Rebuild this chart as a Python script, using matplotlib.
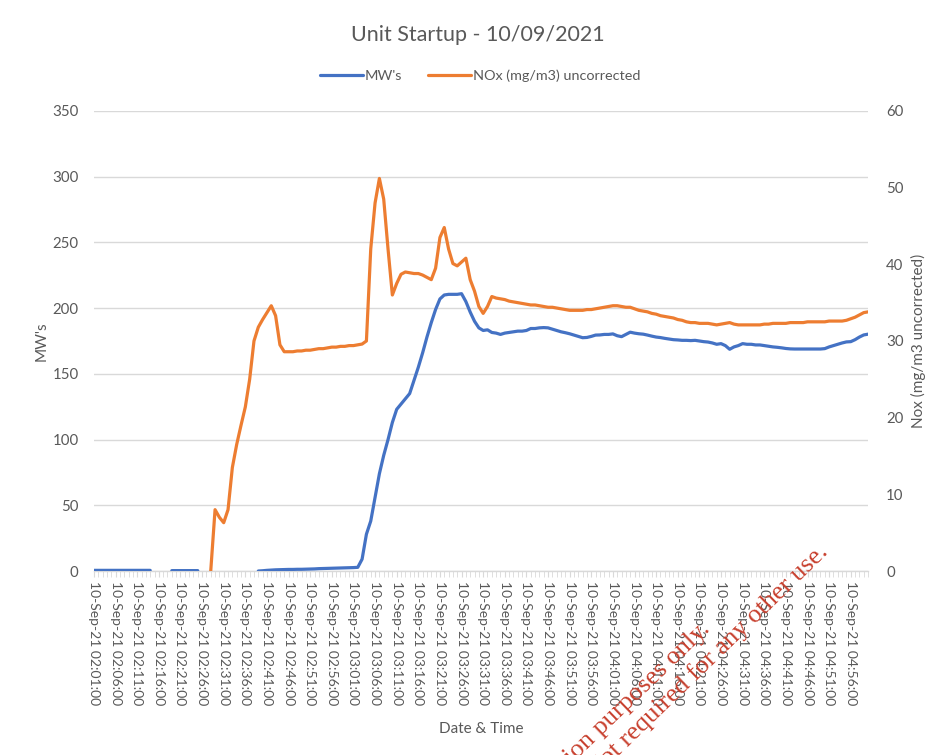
import matplotlib as mpl
mpl.use("Agg")
import matplotlib.pyplot as plt
import numpy as np
import pandas as pd

nan = np.nan

# one reading per minute, 10-Sep-21 02:01 .. 05:00
mw = [0.5] * 14 + [nan] * 4 + [0.3] * 7 + [nan] * 13 + [
    0.0, 0.2, 0.5, 0.7, 0.9, 1.0, 1.1, 1.2, 1.2, 1.3,
    1.3, 1.4, 1.5, 1.6, 1.8, 1.9, 2.0, 2.1, 2.2, 2.3,
    2.4, 2.5, 2.6, 2.8, 9.0, 28.0, 38.0, 56.0, 74.0, 88.0,
    100.0, 113.0, 123.0, 127.0, 131.0, 135.0, 145.0, 155.0, 166.0, 178.0,
    189.0, 199.0, 207.0, 210.0, 210.5, 210.5, 210.5, 211.0, 205.0, 197.0,
    190.0, 185.0, 183.0, 183.5, 181.5, 181.0, 180.0, 181.0, 181.5, 182.0,
    182.5, 182.5, 183.0, 184.5, 184.5, 185.0, 185.2, 185.0, 184.0, 183.0,
    182.0, 181.3, 180.5, 179.5, 178.5, 177.5, 177.7, 178.5, 179.5, 179.6,
    180.0, 180.0, 180.4, 179.0, 178.3, 180.0, 181.7, 181.0, 180.5, 180.2,
    179.5, 178.7, 178.0, 177.6, 177.0, 176.5, 176.0, 175.8, 175.5, 175.5,
    175.3, 175.5, 175.0, 174.5, 174.2, 173.5, 172.5, 173.0, 171.5, 168.7,
    170.5, 171.5, 173.0, 172.5, 172.5, 172.0, 172.0, 171.5, 171.0, 170.5,
    170.2, 169.8, 169.3, 169.0, 168.9, 168.9, 168.9, 168.9, 168.9, 168.9,
    168.9, 169.2, 170.5, 171.5, 172.5, 173.5, 174.3, 174.5, 176.0, 178.0,
    179.6, 180.2]

nox = [nan] * 27 + [
    0.0, 8.0, 7.0, 6.3, 8.0, 13.5, 16.5, 19.0, 21.4, 25.0,
    30.0, 31.8, 32.8, 33.7, 34.6, 33.3, 29.5, 28.6, 28.6, 28.6,
    28.7, 28.7, 28.8, 28.8, 28.9, 29.0, 29.0, 29.1, 29.2, 29.2,
    29.3, 29.3, 29.4, 29.4, 29.5, 29.6, 30.0, 42.0, 48.0, 51.2,
    48.5, 42.0, 36.0, 37.5, 38.7, 39.0, 38.9, 38.8, 38.8, 38.6,
    38.3, 38.0, 39.5, 43.5, 44.8, 42.0, 40.1, 39.8, 40.3, 40.8,
    38.0, 36.5, 34.5, 33.6, 34.5, 35.8, 35.6, 35.5, 35.4, 35.2,
    35.1, 35.0, 34.9, 34.8, 34.7, 34.7, 34.6, 34.5, 34.4, 34.4,
    34.3, 34.2, 34.1, 34.0, 34.0, 34.0, 34.0, 34.1, 34.1, 34.2,
    34.3, 34.4, 34.5, 34.6, 34.6, 34.5, 34.4, 34.4, 34.2, 34.0,
    33.9, 33.8, 33.6, 33.5, 33.3, 33.2, 33.1, 33.0, 32.8, 32.7,
    32.5, 32.4, 32.4, 32.3, 32.3, 32.3, 32.2, 32.1, 32.2, 32.3,
    32.4, 32.2, 32.1, 32.1, 32.1, 32.1, 32.1, 32.1, 32.2, 32.2,
    32.3, 32.3, 32.3, 32.3, 32.4, 32.4, 32.4, 32.4, 32.5, 32.5,
    32.5, 32.5, 32.5, 32.6, 32.6, 32.6, 32.6, 32.7, 32.9, 33.1,
    33.4, 33.7, 33.8]

times = pd.date_range("2021-09-10 02:01", periods=len(mw), freq="min")
labels = [t.strftime("%d-%b-%y %H:%M:%S") for t in times]

BLUE, ORANGE, GREY, GRID = "#4472C4", "#ED7D31", "#595959", "#D9D9D9"
mpl.rcParams.update({"font.family": "Lato"})

fig = plt.figure(figsize=(9.36, 7.55), dpi=100)
ax = fig.add_axes([0.1004, 0.2437, 0.8270, 0.6093])
x = np.arange(len(mw))
l1, = ax.plot(x, mw, color=BLUE, lw=2.3, solid_capstyle="round", label="MW's", zorder=3)
ax2 = ax.twinx()
l2, = ax2.plot(x, nox, color=ORANGE, lw=2.3, solid_capstyle="round",
               label="NOx (mg/m3) uncorrected", zorder=3)

ax.set_xlim(0, len(mw) - 1)
ax.set_ylim(0, 350); ax.set_yticks(range(0, 351, 50))
ax2.set_ylim(0, 60); ax2.set_yticks(range(0, 61, 10))
ax.yaxis.grid(True, color=GRID, lw=1.0)
ax.set_axisbelow(True)
for a in (ax, ax2):
    for s in a.spines.values():
        s.set_visible(False)
ax.spines["bottom"].set_visible(True)
ax.spines["bottom"].set_color(GRID)
ax.spines["bottom"].set_linewidth(1.0)

ax.set_xticks(x, minor=True)
ax.set_xticks(x[::5])
ax.set_xticklabels(labels[::5], rotation=270, fontsize=10, color=GREY)
ax.tick_params(axis="x", which="both", length=4, color=GRID, pad=3)
ax.tick_params(axis="y", length=0, labelsize=10.8, labelcolor=GREY, pad=11)
ax2.tick_params(axis="y", length=0, labelsize=10.8, labelcolor=GREY, pad=13)

ax.set_ylabel("MW's", fontsize=11, color=GREY, labelpad=3)
ax2.set_ylabel("Nox (mg/m3 uncorrected)", fontsize=11, color=GREY, labelpad=5)
ax.set_xlabel("Date & Time", fontsize=11, color=GREY, labelpad=12)

fig.text(0.511, 0.953, "Unit Startup - 10/09/2021", ha="center", va="center",
         fontsize=15.5, color=GREY)
fig.legend([l1, l2], [l1.get_label(), l2.get_label()], loc="center",
           bbox_to_anchor=(0.513, 0.9), ncol=2, frameon=False, fontsize=10.4,
           labelcolor=GREY, handlelength=3.0, handletextpad=0.1, columnspacing=1.8)

# watermark, clipped by the bottom of the image
wm = dict(rotation=44, rotation_mode="anchor", ha="right", va="baseline",
          color="#C8402E", fontsize=19, family="Liberation Serif")
fig.text(0.760, 0.165, "For information purposes only.", **wm)
fig.text(0.886, 0.268, "Not required for any other use.", **wm)

fig.savefig("out.png", dpi=100)
